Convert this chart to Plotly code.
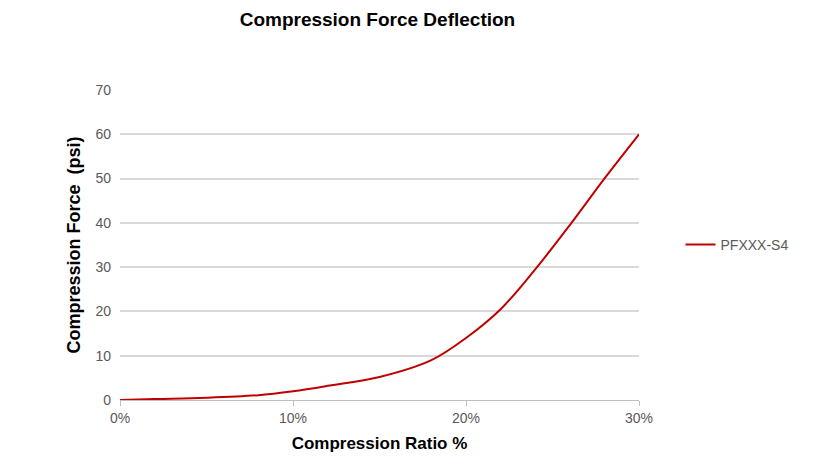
import plotly.graph_objects as go

x = [0, 2, 5, 8, 10, 12, 15, 18, 20, 22, 24, 26, 28, 30]
y = [0, 0.2, 0.5, 1.1, 2.0, 3.2, 5.2, 9.0, 14.0, 20.5, 29.5, 39.5, 50.0, 60.0]
series_name = "PFXXX-S4"

fig = go.Figure()
fig.add_trace(go.Scatter(x=x, y=y, mode="lines", name=series_name, showlegend=True,
                         line=dict(color="#C00000", width=2, shape="spline", smoothing=1.0)))
fig.update_layout(
    width=821, height=466, plot_bgcolor="white", paper_bgcolor="white",
    font=dict(family="Liberation Sans, Arial", color="#595959", size=14),
    title=dict(text="<b>Compression Force Deflection</b>", x=0.45, xanchor="center",
               y=0.99, yanchor="top", automargin=False,
               font=dict(size=19, color="black")),
    showlegend=True,
    margin=dict(l=112, r=190, t=82, b=74, autoexpand=False),
    legend=dict(x=1.08, y=0.5, yanchor="middle", font=dict(size=14, color="#595959")),
    xaxis=dict(range=[0, 30], tickvals=[0, 10, 20, 30], ticktext=["0%", "10%", "20%", "30%"],
               showgrid=False, showline=True, linecolor="#BFBFBF", ticks="outside",
               tickcolor="#BFBFBF", ticklen=5, zeroline=False, automargin=False,
               title=dict(text="<b>Compression Ratio %</b>", font=dict(size=17, color="black"), standoff=12)),
    yaxis=dict(range=[0, 70], dtick=10, showgrid=True, gridcolor="#D9D9D9", gridwidth=2,
               zeroline=False, showline=False, ticks="", ticklabelstandoff=8, automargin=False,
               title=dict(text="<b>Compression Force  (psi)</b>", font=dict(size=18, color="black"), standoff=10)),
)
fig.write_html("out.html")
